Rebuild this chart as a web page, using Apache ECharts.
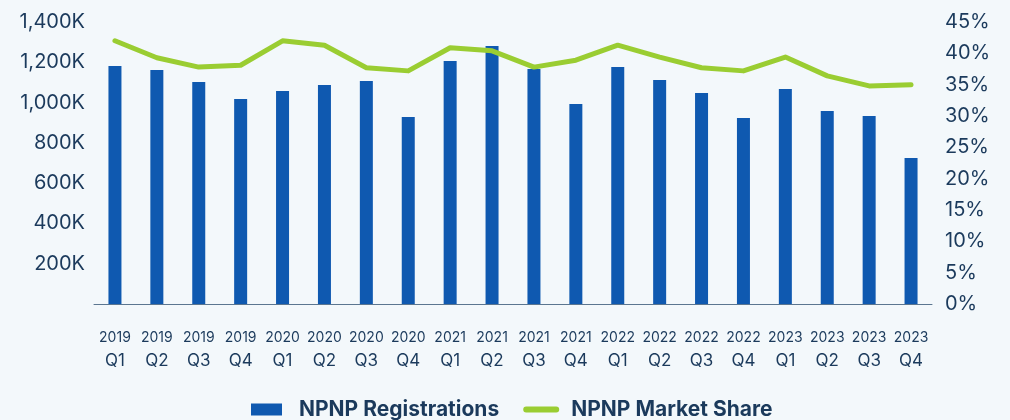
<!DOCTYPE html>
<html>
<head>
<meta charset="utf-8">
<script src="https://cdn.jsdelivr.net/npm/echarts@6/dist/echarts.min.js"></script>
<style>
html,body{margin:0;padding:0;background:#f3f8fb;}
#c{width:1010px;height:420px;}
</style>
</head>
<body>
<div id="c"></div>
<script>
const years = ['2019','2019','2019','2019','2020','2020','2020','2020','2021','2021','2021','2021','2022','2022','2022','2022','2023','2023','2023','2023'];
const quarters = ['Q1','Q2','Q3','Q4','Q1','Q2','Q3','Q4','Q1','Q2','Q3','Q4','Q1','Q2','Q3','Q4','Q1','Q2','Q3','Q4'];
const registrations = [1182000,1162000,1102000,1018000,1058000,1087000,1107000,928000,1206000,1281000,1167000,993000,1177000,1112000,1048000,923000,1067000,958000,933000,725000];
const marketShare = [42.0,39.3,37.8,38.1,42.0,41.3,37.7,37.2,40.9,40.4,37.8,38.9,41.3,39.4,37.7,37.2,39.4,36.4,34.8,35.0];
const leftTicks = {min:0, max:1400000, interval:200000};
const rightTicks = {min:0, max:45, interval:5};

const categories = years.map((y,i)=>y+' '+quarters[i]);
const textColor = '#1b3a5c';
const fontFam = 'Inter, Lato, sans-serif';
// icons drawn in a 43x13 box (invisible corner points keep the box size)
const rectIcon = 'path://M0,0L0.01,0L0.01,0.01ZM43,13L42.99,13L42.99,12.99ZM0,0.5L31,0.5L31,12.5L0,12.5Z';
const pillIcon = 'path://M0,0L0.01,0L0.01,0.01ZM43,13L42.99,13L42.99,12.99ZM3,3.5L33,3.5A3,3 0 0 1 33,9.5L3,9.5A3,3 0 0 1 3,3.5Z';

const chart = echarts.init(document.getElementById('c'));
chart.setOption({
  backgroundColor:'#f3f8fb',
  animation:false,
  grid:{left:94,right:78,top:22,bottom:116},
  legend:{
    top:394,
    left:246,
    itemGap:24,
    itemWidth:43,
    itemHeight:13,
    textStyle:{color:textColor,fontSize:21,fontWeight:'bold',fontFamily:fontFam},
    data:[
      {name:'NPNP Registrations',icon:rectIcon,itemStyle:{color:'#0f59b0'}},
      {name:'NPNP Market Share',icon:pillIcon,itemStyle:{color:'#9acd32'}}
    ]
  },
  xAxis:{
    type:'category',
    data:categories,
    axisTick:{show:false},
    axisLine:{lineStyle:{color:'#5b7690',width:1}},
    axisLabel:{
      margin:22,
      interval:0,
      formatter:(v)=>{const p=v.split(' ');return '{y|'+p[0]+'}\n{q|'+p[1]+'}';},
      rich:{
        y:{color:textColor,fontSize:14,fontFamily:fontFam,lineHeight:23},
        q:{color:textColor,fontSize:17,fontFamily:fontFam,lineHeight:23}
      }
    }
  },
  yAxis:[
    {
      type:'value',
      min:leftTicks.min,max:leftTicks.max,interval:leftTicks.interval,
      splitLine:{show:false},
      axisLine:{show:false},
      axisTick:{show:false},
      axisLabel:{
        margin:9,
        color:textColor,fontSize:20,fontFamily:fontFam,
        formatter:(v)=>v===0?'':(v/1000).toLocaleString('en-US')+'K'
      }
    },
    {
      type:'value',
      min:rightTicks.min,max:rightTicks.max,interval:rightTicks.interval,
      splitLine:{show:false},
      axisLine:{show:false},
      axisTick:{show:false},
      axisLabel:{
        margin:13,
        color:textColor,fontSize:20,fontFamily:fontFam,
        formatter:'{value}%'
      }
    }
  ],
  series:[
    {
      name:'NPNP Registrations',
      type:'bar',
      data:registrations,
      barWidth:13,
      itemStyle:{color:'#0f59b0'}
    },
    {
      name:'NPNP Market Share',
      type:'line',
      yAxisIndex:1,
      data:marketShare,
      showSymbol:false,
      symbol:'none',
      lineStyle:{color:'#9acd32',width:5,cap:'round',join:'round'},
      itemStyle:{color:'#9acd32'}
    }
  ]
});
</script>
</body>
</html>
